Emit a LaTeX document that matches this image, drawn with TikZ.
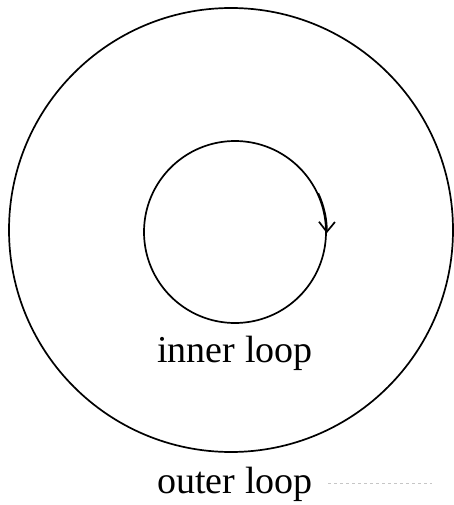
\documentclass[tikz,border=0pt]{standalone}
\usepackage{fontspec}
\setmainfont{Liberation Serif}
\usetikzlibrary{arrows.meta}
\begin{document}
\begin{tikzpicture}[x=1pt,y=-1pt,
  loop/.style={draw=black,circle,line width=1.7pt,inner sep=0pt},
  lbl/.style={font=\fontsize{38}{40}\selectfont,inner sep=0pt,anchor=base},
  tip/.style={line width=1.7pt,-{Straight Barb[length=10pt,width=16pt,line width=1.7pt]}}]
\useasboundingbox (0,0) rectangle (454,505);
\node[loop,minimum size=444pt] (outer) at (231,230) {};
\node[loop,minimum size=182pt] (inner) at (235,232) {};
\draw[tip] (inner.25) arc[start angle=25,end angle=-1,radius=91pt];
\node[lbl] (innerlbl) at (235,362) {inner loop};
\node[lbl] (outerlbl) at (235,493) {outer loop};
\coordinate (dashstart) at (328,483);
\coordinate (dashend) at (432,483);
\draw[gray!45,dashed,line width=0.7pt] (dashstart) -- (dashend);
\end{tikzpicture}
\end{document}
